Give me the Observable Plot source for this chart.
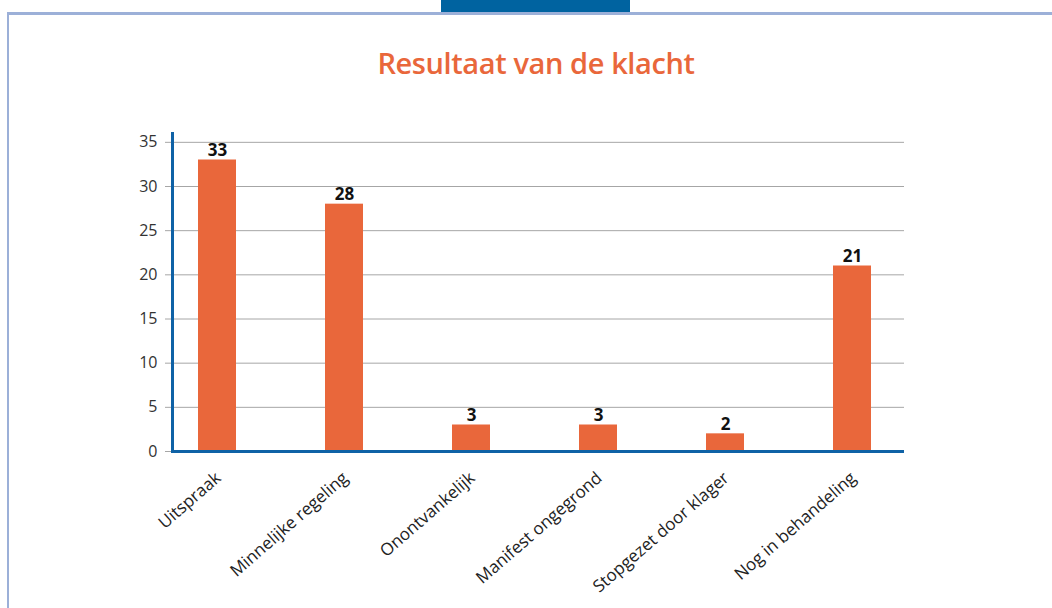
<!DOCTYPE html>
<html>
<head>
<meta charset="utf-8">
<script src="https://cdn.jsdelivr.net/npm/d3@7"></script>
<script src="https://cdn.jsdelivr.net/npm/@observablehq/plot@0.6"></script>
<style>
  html, body { margin: 0; padding: 0; background: #fff; width: 1052px; height: 608px; overflow: hidden; }
  #tab { position: absolute; left: 441px; top: 0; width: 189px; height: 12px; background: #0063a0; }
  #hline { position: absolute; left: 8px; top: 12px; width: 1044px; height: 3px; background: #9cb0d8; }
  #vline { position: absolute; left: 7px; top: 12px; width: 2px; height: 596px; background: #9cb0d8; }
  #title { position: absolute; left: 0; width: 1072px; top: 43px; text-align: center; margin: 0;
           font-family: "Open Sans", sans-serif; font-weight: 600; font-size: 29px; color: #e9673b; letter-spacing: -0.4px; }
  #chart { position: absolute; left: 0; top: 100px; }
</style>
</head>
<body>
<div id="tab"></div>
<div id="hline"></div>
<div id="vline"></div>
<h1 id="title">Resultaat van de klacht</h1>
<div id="chart"></div>
<script>
const categories = ["Uitspraak", "Minnelijke regeling", "Onontvankelijk", "Manifest ongegrond", "Stopgezet door klager", "Nog in behandeling"];
const values = [33, 28, 3, 3, 2, 21];
const yTicks = [0, 5, 10, 15, 20, 25, 30, 35];

const data = categories.map((c, i) => ({category: c, value: values[i]}));
const blue = "#0f62a6";
const orange = "#e9673b";

const chart = Plot.plot({
  width: 1052,
  height: 508,
  marginLeft: 172,
  marginRight: 148,
  marginTop: 33,
  marginBottom: 157,
  style: {fontFamily: "'Open Sans', sans-serif", fontSize: "16px", color: "#333", background: "transparent"},
  x: {domain: categories, range: [197, 873], paddingInner: 0.7, paddingOuter: 0, label: null},
  y: {domain: [0, 36], label: null},
  marks: [
    Plot.gridY(yTicks, {stroke: "#a6a6a6", strokeOpacity: 1, strokeWidth: 1}),
    Plot.axisY(yTicks, {tickSize: 7, tickPadding: 8, stroke: "#a6a6a6", fill: "#333", fontSize: 16, label: null}),
    Plot.barY(data, {x: "category", y: "value", fill: orange}),
    Plot.text(data, {x: "category", y: "value", text: d => String(d.value), lineAnchor: "bottom", dy: -4, fontWeight: "bold", fontSize: 17, fill: "#111"}),
    Plot.frame({anchor: "left", stroke: blue, strokeWidth: 3}),
    Plot.ruleY([0], {stroke: blue, strokeWidth: 3}),
    Plot.axisX({tickSize: 0, tickRotate: -41, tickPadding: 24, fontSize: 17, fill: "#222", label: null, dx: 1})
  ]
});
document.getElementById("chart").appendChild(chart);
</script>
</body>
</html>
